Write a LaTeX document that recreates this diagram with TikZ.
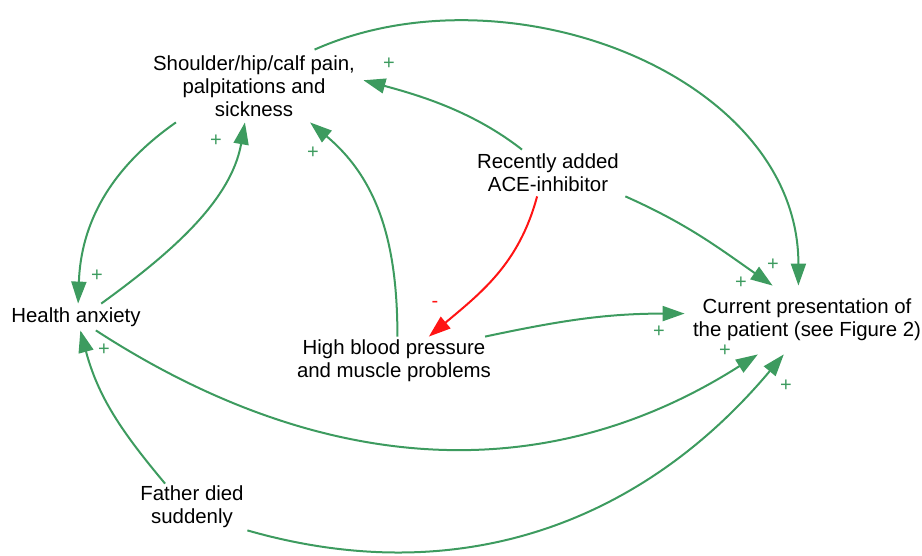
\documentclass[tikz,border=0pt]{standalone}
\usepackage{fontspec}
\setmainfont{Liberation Sans}
\usepackage{tikz}
\usetikzlibrary{arrows.meta}

\definecolor{posgreen}{HTML}{3D9B5F}
\definecolor{negred}{HTML}{FF1414}

\begin{document}
\begin{tikzpicture}[
  x=0.5pt, y=0.5pt,
  var/.style 2 args={
    align=center,
    inner sep=0pt,
    minimum width=#1,
    minimum height=#2,
    font=\fontsize{10.2}{11.5}\selectfont},
  poslink/.style={draw=posgreen, line width=1pt,
    -{Triangle[length=11pt,width=7.5pt]}},
  neglink/.style={draw=negred, line width=1pt,
    -{Triangle[length=11pt,width=7.5pt]}},
  plussign/.style={text=posgreen, inner sep=0pt, font=\fontsize{10}{10}\selectfont},
  minussign/.style={text=negred, inner sep=0pt, font=\fontsize{10}{10}\selectfont}]
  \useasboundingbox (0,0) rectangle (922,-556);
  % draw variables
  \node[var={109pt}{36pt}] (pain) at (254,-86) {Shoulder/hip/calf pain,\\palpitations and\\sickness};
  \node[var={77pt}{23pt}] (ace) at (548,-173) {Recently added\\ACE-inhibitor};
  \node[var={70pt}{13pt}] (anxiety) at (76,-317) {Health anxiety};
  \node[var={100pt}{24pt}] (bp) at (394,-361) {High blood pressure\\and muscle problems};
  \node[var={122pt}{34pt}] (current) at (807,-320) {Current presentation of\\the patient (see Figure 2)};
  \node[var={55pt}{23pt}] (father) at (192,-507) {Father died\\suddenly};
  % draw positive links
  \draw[poslink] (pain.31.8) to[out=24,in=90,looseness=1] (current.104.8);
  \draw[poslink] (ace.138.5) to[out=142,in=-15,looseness=0.9] (pain.3.2);
  \draw[poslink] (ace.south east) to[out=-24,in=145] (current.135);
  \draw[poslink] (bp.82.9) to[out=90,in=-40] (pain.-33.2);
  \draw[poslink] (bp.15.6) to[out=12,in=180] (current.177.2);
  \draw[poslink] (anxiety.28.4) to[out=36,in=-100,looseness=0.9] (pain.-104);
  \draw[poslink] (pain.-155.8) to[out=215,in=88] (anxiety.81.3);
  \draw[poslink] (anxiety.-34.4) to[out=-33,in=-147.5] (current.-145.2);
  \draw[poslink] (father.139.6) to[out=130,in=-75] (anxiety.-72.9);
  \draw[poslink] (father.south east) to[out=-16,in=230] (current.-124.1);
  % draw negative link
  \draw[neglink] (ace.-115.6) to[out=-105,in=40] (bp.35.2);
  % draw polarity signs
  \foreach \where [count=\k] in {(389,-64),(216,-141),(313,-153),(97,-276),(773,-265),
      (741,-283),(659,-332),(725,-351),(786,-386),(104,-350)}
    \node[plussign] (plus\k) at \where {+};
  \node[minussign] (minus1) at (435,-304) {-};
\end{tikzpicture}
\end{document}
